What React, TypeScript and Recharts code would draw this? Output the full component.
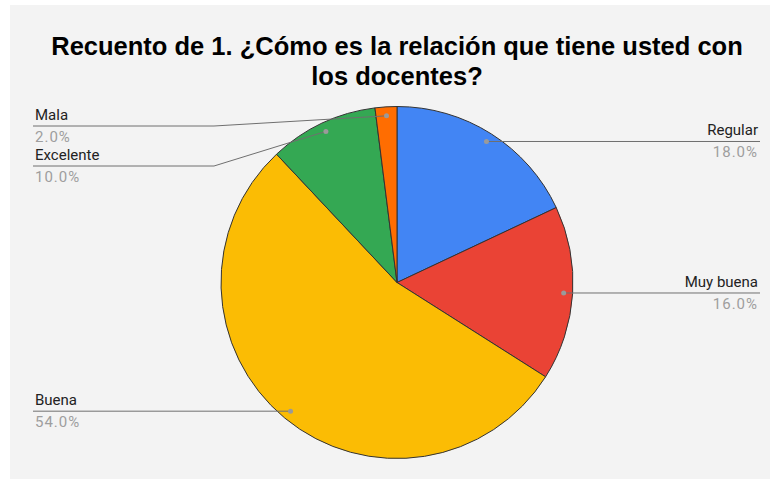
import { PieChart, Pie, Cell } from "recharts";

const categories = ["Regular", "Muy buena", "Buena", "Excelente", "Mala"];
const counts = [9, 8, 27, 5, 1];
const colors = ["#4285f4", "#ea4335", "#fbbc04", "#34a853", "#ff6d01"];
const titleLines = [
  "Recuento de 1. ¿Cómo es la relación que tiene usted con",
  "los docentes?",
];

const W = 770;
const H = 479;
const CX = 397;
const CY = 282.5;
const R = 176;
const DOT_R = R - 9;
const RIGHT_X = 760;
const LEFT_X = 33;
const ELBOW_X = 214;
const TOP_MIN = 126;
const GAP = 40;

const total = counts.reduce((a, b) => a + b, 0);
const data = categories.map((name, i) => ({ name, value: counts[i] }));

// label layout: dot inside slice, line out to the edge, stacked to avoid overlap
type Lbl = { dx: number; dy: number; y: number; right: boolean };
const layout: Lbl[] = (() => {
  let cum = 0;
  const out: Lbl[] = counts.map((v) => {
    const a = ((90 - ((cum + v / 2) / total) * 360) * Math.PI) / 180;
    cum += v;
    const dx = CX + DOT_R * Math.cos(a);
    const dy = CY - DOT_R * Math.sin(a);
    return { dx, dy, y: dy, right: Math.cos(a) >= 0 };
  });
  for (const side of [true, false]) {
    const idx = out
      .map((l, i) => i)
      .filter((i) => out[i].right === side)
      .sort((a, b) => out[a].dy - out[b].dy);
    let prev = -Infinity;
    for (const i of idx) {
      const y = Math.max(out[i].dy, prev + GAP, TOP_MIN);
      out[i].y = y;
      prev = y;
    }
  }
  return out;
})();

const renderLabel = (props: any) => {
  const i = props.index;
  const l = layout[i];
  const pct = ((counts[i] / total) * 100).toFixed(1) + "%";
  const edge = l.right ? RIGHT_X : LEFT_X;
  const pts =
    Math.abs(l.y - l.dy) < 0.5
      ? `${l.dx},${l.dy} ${edge},${l.y}`
      : `${l.dx},${l.dy} ${ELBOW_X},${l.y} ${edge},${l.y}`;
  const tx = l.right ? RIGHT_X - 2 : LEFT_X + 2;
  const anchor = l.right ? "end" : "start";
  return (
    <g key={"lbl-" + i}>
      <polyline points={pts} fill="none" stroke="#6f6f6f" strokeWidth={1} />
      <circle cx={l.dx} cy={l.dy} r={2.5} fill="#9a9a9a" />
      <text
        x={tx}
        y={l.y - 6}
        textAnchor={anchor}
        fontFamily="Roboto, Arial, sans-serif"
        fontSize={15}
        fill="#222222"
      >
        {categories[i]}
      </text>
      <text
        x={tx}
        y={l.y + 16}
        textAnchor={anchor}
        fontFamily="Roboto, Arial, sans-serif"
        fontSize={15}
        letterSpacing={1}
        fill="#9e9e9e"
      >
        {pct}
      </text>
    </g>
  );
};

export default function App() {
  return (
    <div
      style={{
        position: "absolute",
        left: 0,
        top: 0,
        width: W,
        height: H,
        background: "#ffffff",
      }}
    >
      <div
        style={{
          position: "absolute",
          left: 10,
          top: 5,
          width: W - 10,
          height: H - 5,
          background: "#f3f3f3",
        }}
      />
      <div style={{ position: "absolute", left: 0, top: 0 }}>
        <PieChart width={W} height={H} margin={{ top: 0, right: 0, bottom: 0, left: 0 }}>
          <Pie
            data={data}
            dataKey="value"
            nameKey="name"
            cx={CX}
            cy={CY}
            outerRadius={R}
            startAngle={90}
            endAngle={-270}
            stroke="#333333"
            strokeWidth={1}
            label={renderLabel}
            labelLine={false}
            isAnimationActive={false}
          >
            {data.map((d, i) => (
              <Cell key={d.name} fill={colors[i]} />
            ))}
          </Pie>
        </PieChart>
      </div>
      <svg
        width={W}
        height={100}
        style={{ position: "absolute", left: 0, top: 0, pointerEvents: "none" }}
      >
        {titleLines.map((t, i) => (
          <text
            key={i}
            x={397}
            y={55 + i * 30}
            textAnchor="middle"
            fontFamily="'Liberation Sans', Arial, sans-serif"
            fontWeight="bold"
            fontSize={25.5}
            fill="#000000"
          >
            {t}
          </text>
        ))}
      </svg>
    </div>
  );
}
